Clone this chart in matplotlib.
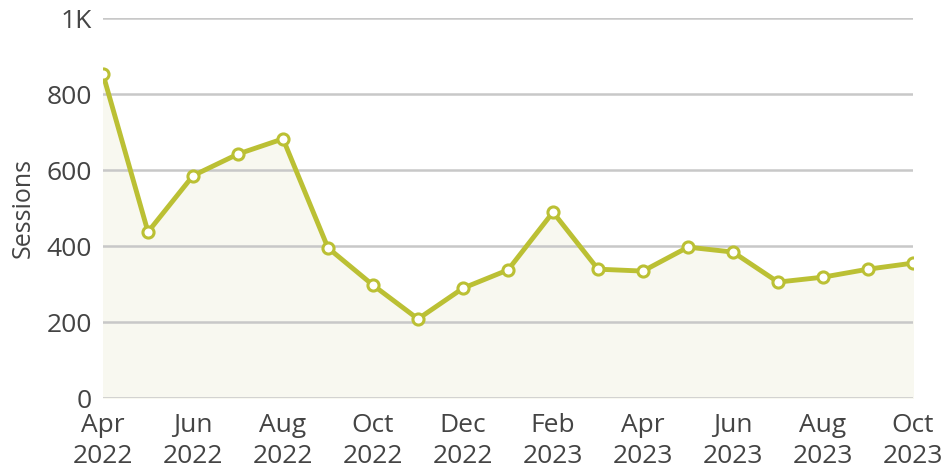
import matplotlib
matplotlib.use("Agg")
import matplotlib.pyplot as plt
import numpy as np

months = ["Apr 2022","May 2022","Jun 2022","Jul 2022","Aug 2022","Sep 2022","Oct 2022","Nov 2022",
          "Dec 2022","Jan 2023","Feb 2023","Mar 2023","Apr 2023","May 2023","Jun 2023","Jul 2023",
          "Aug 2023","Sep 2023","Oct 2023"]
sessions = [852, 437, 585, 642, 682, 395, 297, 208, 289, 337, 489, 339, 334, 397, 384, 305, 318, 339, 355]
yticks = [0, 200, 400, 600, 800, 1000]
ytick_labels = ["0", "200", "400", "600", "800", "1K"]

plt.rcParams['font.family'] = ['Open Sans', 'DejaVu Sans']
fig = plt.figure(figsize=(9.46, 4.76), dpi=100)
ax = fig.add_axes([103/946, 1-398/476, (913-103)/946, (398-18)/476])

x = np.arange(len(months))
line_color = "#BBC034"
ax.fill_between(x, sessions, 0, color="#F8F8F0", zorder=1)
ax.plot(x, sessions, color=line_color, lw=3.5, zorder=3, solid_joinstyle='round')
ax.plot(x, sessions, 'o', ms=8, mfc='white', mec=line_color, mew=2.2, zorder=4)

ax.set_xlim(0, len(months)-1)
ax.set_ylim(0, 1000)
ax.set_yticks(yticks)
ax.set_yticklabels(ytick_labels)
ax.grid(axis='y', color='#C8C8C8', lw=1.8, zorder=2)
ax.set_axisbelow(False)
for s in ax.spines.values():
    s.set_visible(False)
ax.tick_params(axis='y', length=0, pad=8, labelsize=19, labelcolor='#444444')
ax.tick_params(axis='x', length=0, pad=11, labelsize=19, labelcolor='#444444')
ax.set_xticks(x[::2])
ax.set_xticklabels([m.replace(" ", "\n") for m in months[::2]], linespacing=1.3)
ax.set_ylabel("Sessions", fontsize=18, color='#444444', labelpad=8)
fig.savefig("out.png", dpi=100)
